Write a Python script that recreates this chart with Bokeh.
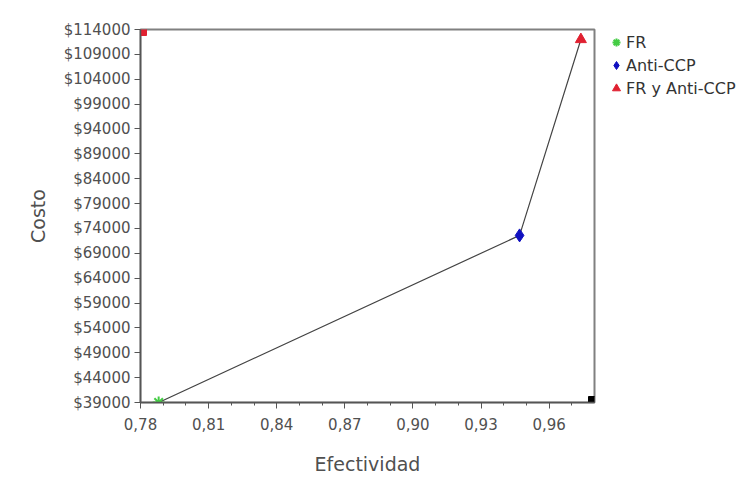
from bokeh.plotting import figure
from bokeh.models import FixedTicker, CustomJSTickFormatter, Legend, LegendItem, Range1d
from bokeh.embed import file_html
from bokeh.resources import INLINE

categorias = ["FR", "Anti-CCP", "FR y Anti-CCP"]
efectividad = [0.788, 0.947, 0.974]
costo = [39000, 72600, 112000]
x_ticks = [0.78, 0.81, 0.84, 0.87, 0.90, 0.93, 0.96]
x_minor = [0.79, 0.80, 0.82, 0.83, 0.85, 0.86, 0.88, 0.89, 0.91, 0.92, 0.94, 0.95, 0.97]
y_ticks = [39000, 44000, 49000, 54000, 59000, 64000, 69000, 74000, 79000,
           84000, 89000, 94000, 99000, 104000, 109000, 114000]
x_range = [0.78, 0.98]
y_range = [39000, 114000]
# corner reference points
corner_x = [0.78, 0.98]
corner_y = [114000, 39000]

FONT = "DejaVu Sans"

p = figure(width=748, height=475, output_backend="svg", toolbar_location=None,
           x_range=Range1d(*x_range), y_range=Range1d(*y_range),
           frame_width=454, frame_height=373,
           min_border_left=140, min_border_top=29, min_border_bottom=73, min_border_right=10)
p.background_fill_color = "white"
p.border_fill_color = "white"
p.outline_line_color = "#808080"
p.outline_line_width = 2
p.grid.visible = False

p.xaxis.ticker = FixedTicker(ticks=x_ticks, minor_ticks=x_minor)
p.yaxis.ticker = FixedTicker(ticks=y_ticks)
p.xaxis.formatter = CustomJSTickFormatter(code="return tick.toFixed(2).replace('.', ',');")
p.yaxis.formatter = CustomJSTickFormatter(code="return '$' + tick.toFixed(0);")
for ax in (p.xaxis[0], p.yaxis[0]):
    ax.axis_line_color = "#555555"
    ax.axis_line_width = 1.5
    ax.major_tick_line_color = "#555555"
    ax.minor_tick_line_color = "#555555"
    ax.major_label_text_font = FONT
    ax.major_label_text_font_size = "15px"
    ax.major_label_text_color = "#505050"
    ax.axis_label_text_font = FONT
    ax.axis_label_text_font_size = "19px"
    ax.axis_label_text_font_style = "normal"
    ax.axis_label_text_color = "#505050"
    ax.major_tick_out = 6
    ax.major_tick_in = 0
xa = p.xaxis[0]
xa.minor_tick_out = 3
xa.minor_tick_in = 0
xa.major_label_standoff = 9
xa.axis_label_standoff = 20
ya = p.yaxis[0]
ya.minor_tick_line_color = None
ya.major_label_standoff = 4
ya.axis_label_standoff = 12
p.xaxis.axis_label = "Efectividad"
p.yaxis.axis_label = "Costo"

p.line(efectividad, costo, line_color="#444444", line_width=1.2)

r1 = p.scatter([efectividad[0]], [costo[0]], marker="asterisk", size=12, line_color="#44cc44", line_width=2)
r2 = p.scatter([efectividad[1]], [costo[1]], marker="diamond", size=13, fill_color="#1010c0", line_color="#1010c0")
r3 = p.scatter([efectividad[2]], [costo[2]], marker="triangle", size=11, fill_color="#e02030", line_color="#e02030")

p.scatter([corner_x[0]], [corner_y[0]], marker="square", size=12, fill_color="#e02030", line_color="#e02030")
p.scatter([corner_x[1]], [corner_y[1]], marker="square", size=12, fill_color="black", line_color="black")

legend = Legend(items=[LegendItem(label=categorias[0], renderers=[r1]),
                       LegendItem(label=categorias[1], renderers=[r2]),
                       LegendItem(label=categorias[2], renderers=[r3])],
                location=(12, 304))
legend.border_line_color = None
legend.background_fill_alpha = 0
legend.label_text_font = FONT
legend.label_text_font_size = "16px"
legend.label_text_color = "#333333"
legend.glyph_width = 20
legend.glyph_height = 20
legend.label_height = 20
legend.spacing = 3
legend.padding = 2
legend.margin = 0
legend.label_standoff = 0
p.add_layout(legend, "right")

open("out.html", "w").write(file_html(p, INLINE))
